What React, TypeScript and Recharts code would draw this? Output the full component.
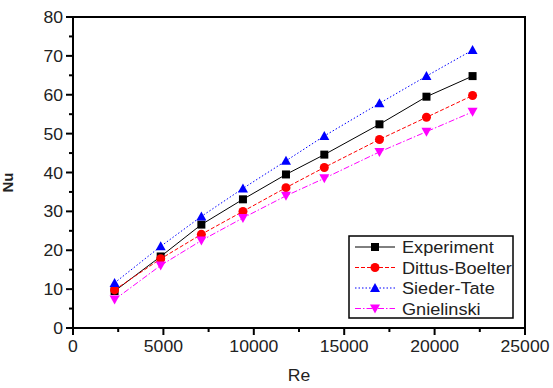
import React from 'react';
import { LineChart, Line, XAxis, YAxis, ReferenceArea } from 'recharts';

// Reynolds numbers of the measured points
const reValues = [2300, 4850, 7100, 9400, 11780, 13900, 16950, 19550, 22100];
// Nusselt numbers per correlation
const experiment = [9.5, 18.4, 26.6, 33.1, 39.5, 44.6, 52.4, 59.5, 64.8];
const dittusBoelter = [9.8, 17.8, 24.1, 30.0, 36.1, 41.3, 48.5, 54.2, 59.8];
const siederTate = [11.6, 21.0, 28.7, 35.9, 43.0, 49.4, 57.8, 64.8, 71.5];
const gnielinski = [7.3, 16.1, 22.5, 28.3, 34.0, 38.5, 45.3, 50.5, 55.6];

const xTicks = [0, 2500, 5000, 7500, 10000, 12500, 15000, 17500, 20000, 22500, 25000];
const xMajor = [0, 5000, 10000, 15000, 20000, 25000];
const yTicks = [0, 5, 10, 15, 20, 25, 30, 35, 40, 45, 50, 55, 60, 65, 70, 75, 80];
const yMajor = [0, 10, 20, 30, 40, 50, 60, 70, 80];

const data = reValues.map((re, i) => ({
  re,
  experiment: experiment[i],
  dittus: dittusBoelter[i],
  sieder: siederTate[i],
  gniel: gnielinski[i],
}));

const FONT = 'Liberation Sans, Arial, sans-serif';

type Shape = 'square' | 'circle' | 'up' | 'down';

const series = [
  { key: 'experiment', name: 'Experiment', color: '#000000', dash: undefined, shape: 'square' as Shape },
  { key: 'dittus', name: 'Dittus-Boelter', color: '#ff0000', dash: '4 2', shape: 'circle' as Shape },
  { key: 'sieder', name: 'Sieder-Tate', color: '#0000ff', dash: '1.5 2', shape: 'up' as Shape },
  { key: 'gniel', name: 'Gnielinski', color: '#ff00ff', dash: '6 2 1.5 2', shape: 'down' as Shape },
];

// the original text looks a bit wide, so stretch it horizontally
const Txt = ({ x, y, anchor = 'start', size = 16, children }: any) => (
  <text
    transform={`translate(${x} ${y}) scale(1.1 1)`}
    textAnchor={anchor}
    fontSize={size}
    fontFamily={FONT}
    fill="#222"
  >
    {children}
  </text>
);

const Marker = ({ cx, cy, color, shape }: { cx: number; cy: number; color: string; shape: Shape }) => {
  if (shape === 'square') return <rect x={cx - 4} y={cy - 4} width={8} height={8} fill={color} />;
  if (shape === 'circle') return <circle cx={cx} cy={cy} r={4.5} fill={color} />;
  if (shape === 'up') return <polygon points={`${cx},${cy - 5} ${cx + 5},${cy + 4} ${cx - 5},${cy + 4}`} fill={color} />;
  return <polygon points={`${cx},${cy + 5} ${cx + 5},${cy - 4} ${cx - 5},${cy - 4}`} fill={color} />;
};

const XTick = (props: any) => {
  const { x, y, payload } = props;
  const major = xMajor.includes(payload.value);
  return (
    <g>
      <line x1={x} x2={x} y1={y} y2={y + (major ? 7 : 4)} stroke="#000" strokeWidth={2} />
      {major && (
        <Txt x={x} y={y + 24} anchor="middle">
          {payload.value}
        </Txt>
      )}
    </g>
  );
};

const YTick = (props: any) => {
  const { x, y, payload } = props;
  const major = yMajor.includes(payload.value);
  return (
    <g>
      <line x1={x} x2={x - (major ? 7 : 4)} y1={y} y2={y} stroke="#000" strokeWidth={2} />
      {major && (
        <Txt x={x - 10} y={y + 6} anchor="end">
          {payload.value}
        </Txt>
      )}
    </g>
  );
};

const NuLabel = (props: any) => {
  const { viewBox } = props;
  const cy = viewBox.y + viewBox.height / 2 + 10;
  return (
    <text x={13} y={cy} transform={`rotate(-90 13 ${cy})`} textAnchor="middle" fontSize={15} fontWeight="bold" fontFamily={FONT} fill="#222">
      Nu
    </text>
  );
};

const ReLabel = (props: any) => {
  const { viewBox } = props;
  return (
    <Txt x={viewBox.x + viewBox.width / 2} y={viewBox.y + viewBox.height - 7} anchor="middle">
      Re
    </Txt>
  );
};

const LegendBox = () => (
  <svg width={166} height={84} style={{ position: 'absolute', left: 348, top: 235 }}>
    <rect x={1} y={1} width={164} height={82} fill="#fff" stroke="#000" strokeWidth={1.5} />
    {series.map((s, i) => {
      const cy = 12 + i * 20.5;
      return (
        <g key={s.key}>
          <line x1={7} x2={47} y1={cy} y2={cy} stroke={s.color} strokeWidth={1} strokeDasharray={s.dash} />
          <Marker cx={27} cy={cy} color={s.color} shape={s.shape} />
          <Txt x={54} y={cy + 6} size={16.5}>
            {s.name}
          </Txt>
        </g>
      );
    })}
  </svg>
);

const App = () => (
  <div style={{ position: 'absolute', left: 0, top: 0, width: 553, height: 388, background: '#fff' }}>
    <LineChart width={553} height={388} data={data} margin={{ top: 17, right: 28, bottom: 0, left: 0 }}>
      <XAxis
        dataKey="re"
        type="number"
        domain={[0, 25000]}
        ticks={xTicks}
        interval={0}
        tickSize={0}
        tickMargin={0}
        tickLine={false}
        tick={<XTick />}
        height={60}
        axisLine={{ stroke: '#000', strokeWidth: 2 }}
        label={<ReLabel />}
      />
      <YAxis
        type="number"
        domain={[0, 80]}
        ticks={yTicks}
        interval={0}
        tickSize={0}
        tickMargin={0}
        tickLine={false}
        tick={<YTick />}
        width={73}
        axisLine={{ stroke: '#000', strokeWidth: 2 }}
        label={<NuLabel />}
      />
      <ReferenceArea x1={0} x2={25000} y1={0} y2={80} fill="none" stroke="#000" strokeWidth={2} ifOverflow="visible" />
      {series.map((s) => (
        <Line
          key={s.key}
          dataKey={s.key}
          name={s.name}
          stroke={s.color}
          strokeWidth={1}
          strokeDasharray={s.dash}
          isAnimationActive={false}
          dot={(p: any) => <Marker key={`${s.key}-${p.index}`} cx={p.cx} cy={p.cy} color={s.color} shape={s.shape} />}
          activeDot={false}
        />
      ))}
    </LineChart>
    <LegendBox />
  </div>
);

export default App;
